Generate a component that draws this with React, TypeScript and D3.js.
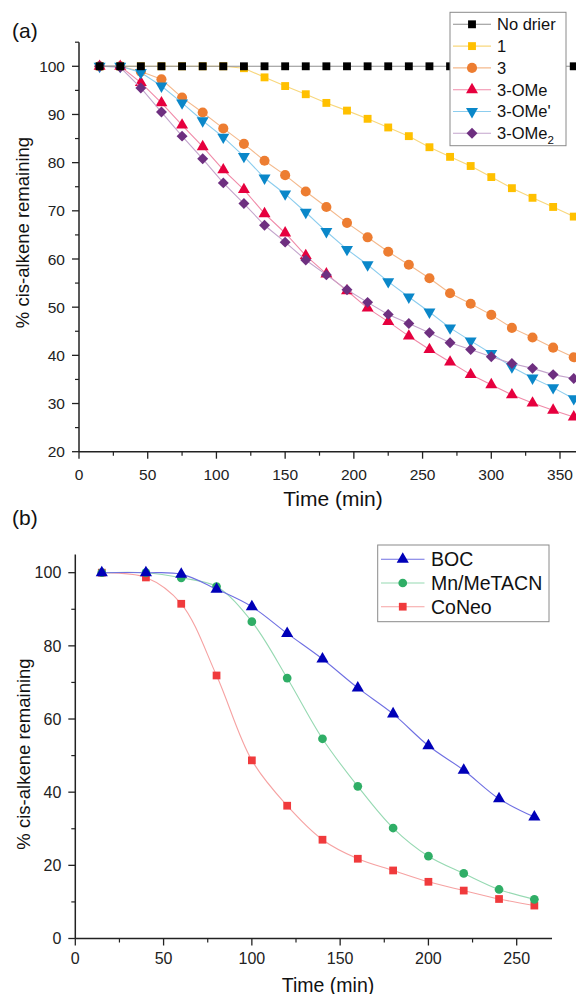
import React, { useEffect, useRef } from 'react';
import * as d3 from 'd3';

// panel (a): time in minutes, % cis-alkene remaining
const TIMES_A = [15, 30, 45, 60, 75, 90, 105, 120, 135, 150, 165, 180, 195, 210, 225, 240, 255, 270, 285, 300, 315, 330, 345, 360];
const NO_DRIER = [100, 100, 100, 100, 100, 100, 100, 100, 100, 100, 100, 100, 100, 100, 100, 100, 100, 100, 100, 100, 100, 100, 100, 100];
const DRIER_1 = [100, 100, 100, 100, 100, 100, 100, 99.6, 97.7, 95.9, 94.2, 92.4, 90.8, 89.1, 87.3, 85.5, 83.2, 81.2, 79.3, 77.0, 74.7, 72.7, 70.8, 68.8];
const DRIER_3 = [100, 100, 98.9, 97.3, 93.5, 90.4, 87.1, 83.9, 80.4, 77.4, 74.0, 70.8, 67.5, 64.5, 61.5, 58.8, 56.0, 52.9, 50.7, 48.4, 45.7, 43.7, 41.6, 39.6];
const DRIER_3OME = [100, 100, 96.6, 92.4, 87.8, 83.3, 78.5, 74.4, 69.4, 65.4, 60.7, 56.9, 53.4, 49.8, 47.0, 44.0, 41.2, 38.6, 36.0, 33.9, 31.8, 30.1, 28.6, 27.2];
const DRIER_3OMEP = [100, 100, 98.7, 95.9, 92.4, 88.7, 85.3, 81.3, 76.8, 73.5, 69.7, 65.7, 62.0, 58.8, 55.3, 52.1, 49.0, 45.7, 43.0, 40.4, 37.6, 35.3, 33.3, 31.0];
const DRIER_3OME2 = [100, 99.8, 95.5, 90.5, 85.5, 80.8, 75.8, 71.5, 67.0, 63.5, 59.8, 56.7, 53.6, 51.0, 48.5, 46.6, 44.7, 42.6, 41.2, 39.7, 38.3, 37.3, 36.0, 35.2];

// panel (b)
const TIMES_B = [15, 40, 60, 80, 100, 120, 140, 160, 180, 200, 220, 240, 260];
const BOC = [100, 100, 99.6, 95.5, 90.7, 83.4, 76.4, 68.5, 61.4, 52.7, 46.0, 38.2, 33.2];
const MN_METACN = [100, 100, 98.6, 96.2, 86.6, 71.2, 54.6, 41.6, 30.2, 22.5, 17.8, 13.4, 10.7];
const CONEO = [100, 98.7, 91.5, 71.9, 48.7, 36.3, 27.0, 21.8, 18.6, 15.5, 13.1, 10.8, 9.0];

const X_TICKS_A = [0, 50, 100, 150, 200, 250, 300, 350];
const Y_TICKS_A = [20, 30, 40, 50, 60, 70, 80, 90, 100];
const X_TICKS_B = [0, 50, 100, 150, 200, 250];
const Y_TICKS_B = [0, 20, 40, 60, 80, 100];

const FONT = "'Liberation Sans', Arial, Helvetica, sans-serif";
const AXIS = '#222';

type Shape = 'square' | 'circle' | 'triangle' | 'down' | 'diamond';
interface Series {
  name: string;
  sub?: string;
  values: number[];
  shape: Shape;
  size: number;
  fill: string;
  line: string;
}

const SERIES_A: Series[] = [
  { name: 'No drier', values: NO_DRIER, shape: 'square', size: 62, fill: '#000000', line: '#8f8f8f' },
  { name: '1', values: DRIER_1, shape: 'square', size: 62, fill: '#ffc000', line: '#f8d77c' },
  { name: '3', values: DRIER_3, shape: 'circle', size: 80, fill: '#ed7d31', line: '#f4b98c' },
  { name: '3-OMe', values: DRIER_3OME, shape: 'triangle', size: 62, fill: '#e6003e', line: '#f08aa8' },
  { name: "3-OMe'", values: DRIER_3OMEP, shape: 'down', size: 62, fill: '#0a87c9', line: '#8ccdee' },
  { name: '3-OMe', sub: '2', values: DRIER_3OME2, shape: 'diamond', size: 60, fill: '#6e2f80', line: '#c3a4cc' },
];

const SERIES_B: Series[] = [
  { name: 'BOC', values: BOC, shape: 'triangle', size: 64, fill: '#0000b8', line: '#6f6fe2' },
  { name: 'Mn/MeTACN', values: MN_METACN, shape: 'circle', size: 60, fill: '#2fae66', line: '#96d9b2' },
  { name: 'CoNeo', values: CONEO, shape: 'square', size: 60, fill: '#f03a3c', line: '#f6a2a2' },
];

function markerPath(shape: Shape, size: number): string {
  if (shape === 'diamond') {
    const r = Math.sqrt(size / 2);
    return `M0,${-r}L${r},0L0,${r}L${-r},0Z`;
  }
  const type = shape === 'square' ? d3.symbolSquare : shape === 'circle' ? d3.symbolCircle : d3.symbolTriangle;
  return d3.symbol().type(type).size(size)() as string;
}

function drawMarker(g: any, s: Series, x: number, y: number) {
  g.append('path')
    .attr('d', markerPath(s.shape, s.size))
    .attr('transform', `translate(${x},${y})${s.shape === 'down' ? ' rotate(180)' : ''}`)
    .attr('fill', s.fill);
}

function drawLabel(t: any, s: Series, size: number) {
  t.append('tspan').text(s.name);
  if (s.sub) {
    t.append('tspan').attr('font-size', size * 0.7).attr('dy', size * 0.3).text(s.sub);
  }
}

interface PanelOpts {
  tag: string;
  tagY: number;
  times: number[];
  series: Series[];
  drawOrder: number[];
  x: d3.ScaleLinear<number, number>;
  y: d3.ScaleLinear<number, number>;
  xTicks: number[];
  xMinor: number[];
  yTicks: number[];
  yMinor: number[];
  tickFont: number;
  xLabelDy: number;
  titleY: number;
  titleX: number;
  titleFont: number;
  yTitleX: number;
  yTitleY: number;
  curve: any;
  legend: { x0: number; x1: number; y0: number; y1: number; row0: number; step: number; lx0: number; lx1: number; tx: number; font: number };
}

function drawPanel(svg: any, o: PanelOpts) {
  const { x, y } = o;
  const g = svg.append('g');
  const [x0, x1] = x.range();
  const [yb, yt] = y.range();

  g.append('text').attr('x', 12).attr('y', o.tagY).attr('font-size', 21).attr('fill', '#111').text(o.tag);

  // series
  const line = d3.line<number>().x((_, i) => x(o.times[i])).y(d => y(d)).curve(o.curve);
  o.drawOrder.forEach(idx => {
    const s = o.series[idx];
    const sg = g.append('g');
    sg.append('path').attr('d', line(s.values)).attr('fill', 'none').attr('stroke', s.line).attr('stroke-width', 1.1);
    s.values.forEach((v, i) => drawMarker(sg, s, x(o.times[i]), y(v)));
  });

  // axes
  g.append('line').attr('x1', x0).attr('x2', x0).attr('y1', yb).attr('y2', yt).attr('stroke', AXIS).attr('stroke-width', 1.5);
  g.append('line').attr('x1', x0).attr('x2', x1).attr('y1', yb).attr('y2', yb).attr('stroke', AXIS).attr('stroke-width', 1.5);

  o.yTicks.forEach(t => {
    g.append('line').attr('x1', x0 - 7).attr('x2', x0).attr('y1', y(t)).attr('y2', y(t)).attr('stroke', AXIS).attr('stroke-width', 1.3);
    g.append('text').attr('x', x0 - 14).attr('y', y(t)).attr('dy', '0.36em').attr('text-anchor', 'end')
      .attr('font-size', o.tickFont).attr('fill', '#222').text(t);
  });
  o.yMinor.forEach(t => {
    g.append('line').attr('x1', x0 - 4).attr('x2', x0).attr('y1', y(t)).attr('y2', y(t)).attr('stroke', AXIS).attr('stroke-width', 1.2);
  });
  o.xTicks.forEach(t => {
    g.append('line').attr('x1', x(t)).attr('x2', x(t)).attr('y1', yb).attr('y2', yb + 7).attr('stroke', AXIS).attr('stroke-width', 1.3);
    g.append('text').attr('x', x(t)).attr('y', yb + o.xLabelDy).attr('text-anchor', 'middle')
      .attr('font-size', o.tickFont).attr('fill', '#222').text(t);
  });
  o.xMinor.forEach(t => {
    g.append('line').attr('x1', x(t)).attr('x2', x(t)).attr('y1', yb).attr('y2', yb + 4).attr('stroke', AXIS).attr('stroke-width', 1.2);
  });

  g.append('text').attr('x', o.titleX).attr('y', o.titleY).attr('text-anchor', 'middle')
    .attr('font-size', o.titleFont).attr('fill', '#111').text('Time (min)');
  g.append('text').attr('transform', `translate(${o.yTitleX},${o.yTitleY}) rotate(-90)`).attr('text-anchor', 'middle')
    .attr('font-size', 18.5).attr('fill', '#111').text('% cis-alkene remaining');

  // legend
  const L = o.legend;
  g.append('rect').attr('x', L.x0).attr('y', L.y0).attr('width', L.x1 - L.x0).attr('height', L.y1 - L.y0)
    .attr('fill', '#fff').attr('stroke', '#8a8a8a').attr('stroke-width', 1);
  o.series.forEach((s, i) => {
    const ry = L.row0 + i * L.step;
    g.append('line').attr('x1', L.lx0).attr('x2', L.lx1).attr('y1', ry).attr('y2', ry).attr('stroke', s.line).attr('stroke-width', 1.1);
    drawMarker(g, s, (L.lx0 + L.lx1) / 2, ry);
    const t = g.append('text').attr('x', L.tx).attr('y', ry).attr('dy', '0.36em').attr('font-size', L.font).attr('fill', '#111');
    drawLabel(t, s, L.font);
  });
}

export default function App() {
  const ref = useRef<SVGSVGElement | null>(null);

  useEffect(() => {
    const svg = d3.select(ref.current);
    svg.selectAll('*').remove();

    const xA = d3.scaleLinear().domain([0, 370]).range([79, 79 + 370 * 1.3743]);
    const yA = d3.scaleLinear().domain([20, 105]).range([451.7, 42.2]);
    drawPanel(svg, {
      tag: '(a)', tagY: 37.5,
      times: TIMES_A, series: SERIES_A, drawOrder: [1, 2, 3, 4, 5, 0],
      x: xA, y: yA,
      xTicks: X_TICKS_A, xMinor: [25, 75, 125, 175, 225, 275, 325],
      yTicks: Y_TICKS_A, yMinor: [25, 35, 45, 55, 65, 75, 85, 95, 105],
      tickFont: 15.5, xLabelDy: 28.3,
      titleX: 333, titleY: 506, titleFont: 21,
      yTitleX: 29, yTitleY: 232.5,
      curve: d3.curveLinear,
      legend: { x0: 450, x1: 566, y0: 12.3, y1: 145.7, row0: 24.3, step: 21.8, lx0: 453, lx1: 491, tx: 497, font: 16.5 },
    });

    const xB = d3.scaleLinear().domain([0, 270]).range([75.3, 75.3 + 270 * 1.7656]);
    const yB = d3.scaleLinear().domain([0, 105]).range([938.5, 554.4]);
    drawPanel(svg, {
      tag: '(b)', tagY: 524.6,
      times: TIMES_B, series: SERIES_B, drawOrder: [2, 1, 0],
      x: xB, y: yB,
      xTicks: X_TICKS_B, xMinor: [25, 75, 125, 175, 225],
      yTicks: Y_TICKS_B, yMinor: [10, 30, 50, 70, 90],
      tickFont: 16, xLabelDy: 25,
      titleX: 328, titleY: 991.5, titleFont: 19.5,
      yTitleX: 30, yTitleY: 754,
      curve: d3.curveCatmullRom,
      legend: { x0: 377.7, x1: 549, y0: 545, y1: 621.7, row0: 559.3, step: 23.7, lx0: 381, lx1: 424.5, tx: 431, font: 19.5 },
    });
  }, []);

  return (
    <svg
      ref={ref}
      width={576}
      height={994}
      style={{ position: 'absolute', left: 0, top: 0, background: '#fff', fontFamily: FONT }}
    />
  );
}
